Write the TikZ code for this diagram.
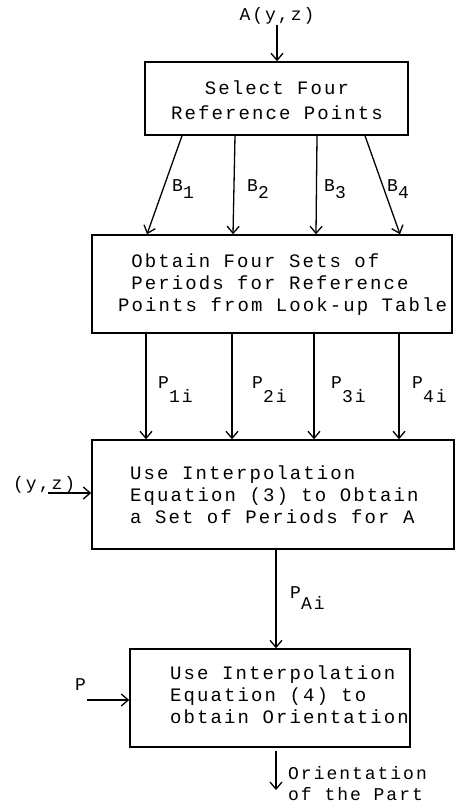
\documentclass[tikz,border=0pt]{standalone}
\usepackage{fontspec}
\newfontfamily\tw{Liberation Mono}[LetterSpace=11]
\usetikzlibrary{arrows.meta}
\begin{document}
\begin{tikzpicture}[x=1pt,y=-1pt,
  box/.style={draw, line width=1.5pt, rectangle, inner sep=0pt},
  txt/.style={font=\tw\fontsize{19}{22}\selectfont, inner sep=0pt, align=left, anchor=north west},
  lbl/.style={font=\tw\fontsize{18}{21}\selectfont, inner sep=0pt, anchor=base west},
  arr/.style={line width=1.3pt, -{Straight Barb[length=7pt,width=12pt,line width=1.3pt]}}
]
\useasboundingbox (0,0) rectangle (455,805);

% boxes
\node[box, minimum width=263pt, minimum height=73pt] (b1) at (276.5,98.5) {};
\node[box, minimum width=360pt, minimum height=98pt] (b2) at (272,284) {};
\node[box, minimum width=362pt, minimum height=109pt] (b3) at (273,494.5) {};
\node[box, minimum width=280pt, minimum height=98pt] (b4) at (270,698) {};

% box texts
\node[txt, font=\tw\fontsize{19}{25}\selectfont, align=center, anchor=north] (t1) at (277,81) {Select Four\\Reference Points};
\node[txt] (t2) at (118,254) {\hspace*{13.2pt}Obtain Four Sets of\\\hspace*{13.2pt}Periods for Reference\\Points from Look-up Table};
\node[txt] (t3) at (130,466) {Use Interpolation\\Equation (3) to Obtain\\a Set of Periods for A};
\node[txt] (t4) at (170,666) {Use Interpolation\\Equation (4) to\\obtain Orientation};

% input A
\node[lbl, anchor=base] (a) at (277,21) {A(y,z)};
\draw[arr] (a.south) -- (a.south |- b1.north);

% B arrows
\draw[arr] (b1.south -| 182,0) -- (b2.north -| 147,0);
\draw[arr] (b1.south -| 235,0) -- (b2.north -| 233,0);
\draw[arr] (b1.south -| 317,0) -- (b2.north -| 316,0);
\draw[arr] (b1.south -| 365,0) -- (b2.north -| 400,0);
\node[lbl] (lb1) at (172,192) {B\raisebox{-6pt}{1}};
\node[lbl] (lb2) at (247,192) {B\raisebox{-6pt}{2}};
\node[lbl] (lb3) at (324,192) {B\raisebox{-6pt}{3}};
\node[lbl] (lb4) at (387,192) {B\raisebox{-6pt}{4}};

% P arrows
\draw[arr] (b2.south -| 146,0) -- (b3.north -| 146,0);
\draw[arr] (b2.south -| 232,0) -- (b3.north -| 232,0);
\draw[arr] (b2.south -| 314,0) -- (b3.north -| 314,0);
\draw[arr] (b2.south -| 399,0) -- (b3.north -| 399,0);
\node[lbl] (lp1) at (158,388) {P\raisebox{-14pt}{1i}};
\node[lbl] (lp2) at (252,388) {P\raisebox{-14pt}{2i}};
\node[lbl] (lp3) at (331,388) {P\raisebox{-14pt}{3i}};
\node[lbl] (lp4) at (412,388) {P\raisebox{-14pt}{4i}};

% (y,z) input
\node[lbl] (yz) at (13,489) {(y,z)};
\coordinate (yzs) at (48,493);
\draw[arr] (yzs) -- (yzs -| b3.west);

% P_Ai
\draw[arr] (b3.south -| 276,0) -- (b4.north -| 276,0);
\node[lbl] (lpa) at (290,598) {P\raisebox{-11pt}{Ai}};

% P input
\node[lbl] (p) at (75,690) {P};
\coordinate (ps) at (87,700);
\draw[arr] (ps) -- (ps -| b4.west);

% output
\coordinate (out) at (276,790);
\draw[arr] (b4.south -| out) ++(0,3) -- (out);
\node[lbl, align=left, anchor=north west] (o) at (288,766) {Orientation\\of the Part};
\end{tikzpicture}
\end{document}
